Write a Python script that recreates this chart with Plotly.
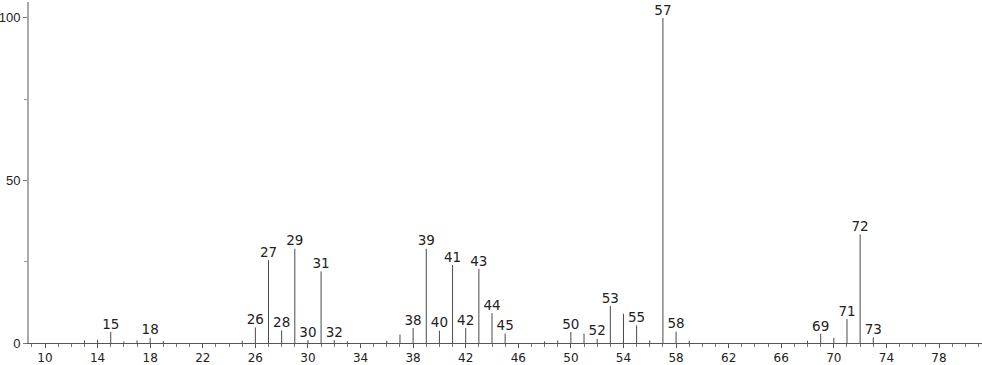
import plotly.graph_objects as go

# m/z values and relative intensities
mz = [13, 14, 15, 16, 17, 18, 19, 25, 26, 27, 28, 29, 30, 31, 32, 33,
      36, 37, 38, 39, 40, 41, 42, 43, 44, 45, 48, 49, 50, 51, 52, 53, 54, 55, 56,
      57, 58, 59, 68, 69, 70, 71, 72, 73]
intensity = [0.8, 1.0, 3.4, 0.5, 0.8, 1.6, 0.6, 0.7, 4.8, 25.5, 3.9, 29.0, 0.9, 22.0, 0.9, 0.5,
             0.7, 2.6, 4.6, 29.0, 3.8, 24.0, 4.6, 22.8, 9.2, 2.9, 0.5, 0.8, 3.4, 2.9, 1.3, 11.4, 9.0, 5.4, 0.8,
             100.0, 3.5, 0.7, 0.7, 2.8, 1.6, 7.4, 33.4, 1.7]
labeled = [15, 18, 26, 27, 28, 29, 30, 31, 32, 38, 39, 40, 41, 42, 43, 44, 45,
           50, 52, 53, 55, 57, 58, 69, 71, 72, 73]

x_ticks = list(range(10, 79, 4))
y_ticks = [0, 50, 100]

FONT = "DejaVu Sans"

# stick segments built from data
seg_x, seg_y = [], []
for m, h in zip(mz, intensity):
    seg_x += [m, m, None]
    seg_y += [0, h, None]

lab_x = [m for m in mz if m in labeled]
lab_y = [h for m, h in zip(mz, intensity) if m in labeled]
lab_t = [str(m) for m in lab_x]

fig = go.Figure()
fig.add_trace(go.Scatter(x=seg_x, y=seg_y, mode="lines",
                         line=dict(color="#4a4a4a", width=1),
                         hoverinfo="skip", showlegend=False))
fig.add_trace(go.Scatter(x=lab_x, y=lab_y, mode="text", text=lab_t,
                         textposition="top center",
                         textfont=dict(family=FONT, size=13.5, color="#222"),
                         showlegend=False, hoverinfo="skip", cliponaxis=False))

fig.update_layout(
    width=982, height=365,
    margin=dict(l=29, r=0, t=2, b=22),
    paper_bgcolor="white", plot_bgcolor="white",
    font=dict(family=FONT, size=12, color="#222"),
    xaxis=dict(range=[8.783, 81.27], tickvals=x_ticks, ticktext=[str(v) for v in x_ticks],
               automargin=False,
               showgrid=False, zeroline=False, showline=True, linecolor="#555", linewidth=1,
               ticks="outside", ticklen=4, tickcolor="#555", tickwidth=1,
               minor=dict(dtick=1, tick0=0, ticks="outside", ticklen=3, tickcolor="#777", showgrid=False),
               tickfont=dict(family=FONT, size=12, color="#222")),
    yaxis=dict(range=[0, 104.9], tickvals=y_ticks, ticktext=[str(v) for v in y_ticks],
               automargin=False,
               showgrid=False, zeroline=False, showline=True, linecolor="#aaa", linewidth=2,
               ticks="outside", ticklen=4, tickcolor="#777", tickwidth=1,
               minor=dict(tickvals=[25, 75], ticks="outside", ticklen=3, tickcolor="#999", showgrid=False),
               tickfont=dict(family="Liberation Sans", size=13, color="#222")),
)

fig.write_html("out.html")
